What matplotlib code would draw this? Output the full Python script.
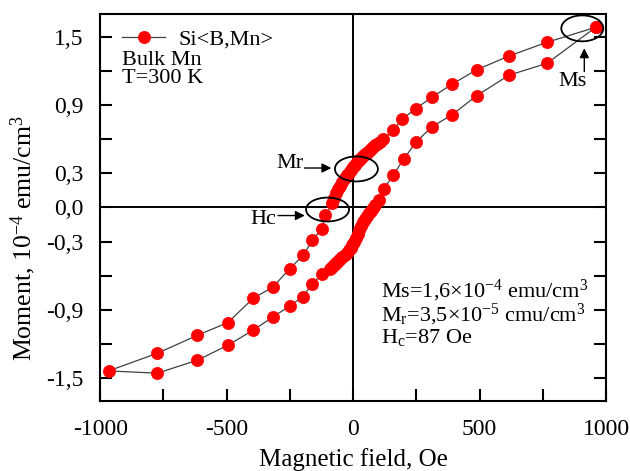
import matplotlib
matplotlib.use("Agg")
import matplotlib.pyplot as plt
from matplotlib.patches import Ellipse

plt.rcParams['font.family'] = ['Liberation Serif', 'DejaVu Serif']
plt.rcParams['mathtext.fontset'] = 'custom'
plt.rcParams['mathtext.rm'] = 'Liberation Serif'
plt.rcParams['mathtext.it'] = 'Liberation Serif:italic'
plt.rcParams['mathtext.bf'] = 'Liberation Serif:bold'

# descending branch, +H -> -H
h_down = [959, 767, 616, 488, 391, 310, 248, 195, 158, 120,
          106, 96, 86, 78, 70, 62, 54, 46, 38, 30, 22, 14, 6, -2,
          -10, -18, -26, -34, -42, -50, -58, -66, -74, -82,
          -110, -124, -161, -198, -251, -317, -396, -495, -616, -774, -967]
m_down = [1.584, 1.453, 1.332, 1.210, 1.084, 0.967, 0.870, 0.777, 0.677, 0.600,
          0.578, 0.562, 0.545, 0.530, 0.515, 0.500, 0.483, 0.467, 0.450, 0.432,
          0.415, 0.396, 0.376, 0.355, 0.332, 0.307, 0.282, 0.256, 0.226, 0.193,
          0.160, 0.125, 0.082, 0.035,
          -0.068, -0.188, -0.290, -0.422, -0.539, -0.700, -0.800, -1.012, -1.124,
          -1.282, -1.437]

# ascending branch, -H -> +H
h_up = [-774, -616, -495, -396, -317, -251, -198, -161, -124, -93,
        -84, -75, -66, -58, -50, -42, -34, -26, -18, -10, -3, 4, 11, 18,
        25, 32, 40, 48, 56, 64, 72, 80, 88,
        102, 122, 158, 200, 248, 310, 391, 488, 616, 767, 959]
m_up = [-1.457, -1.343, -1.211, -1.080, -0.963, -0.867, -0.784, -0.670, -0.589, -0.539,
        -0.522, -0.503, -0.485, -0.468, -0.452, -0.435, -0.416, -0.398, -0.378,
        -0.355, -0.330, -0.300, -0.268, -0.235, -0.200, -0.162, -0.128, -0.098,
        -0.072, -0.050, -0.028, -0.005, 0.025,
        0.063, 0.166, 0.282, 0.426, 0.572, 0.707, 0.815, 0.982, 1.163, 1.268, 1.584]

y_ticks = [-1.5, -1.2, -0.9, -0.6, -0.3, 0.0, 0.3, 0.6, 0.9, 1.2, 1.5]
y_labels = ['-1,5', '', '-0,9', '', '-0,3', '0,0', '0,3', '', '0,9', '', '1,5']
x_ticks = [-1000, -750, -500, -250, 0, 250, 500, 750, 1000]
x_labels = ['-1000', '', '-500', '', '0', '', '500', '', '1000']

fig = plt.figure(figsize=(6.3, 4.71), dpi=100)
ax = fig.add_axes([0.159, 0.149, 0.803, 0.821])

ax.axhline(0, color='black', lw=1.4, zorder=1)
ax.axvline(0, color='black', lw=1.4, zorder=1)

ax.plot(h_down + h_up, m_down + m_up, color='#404040', lw=0.9,
        marker='o', markersize=8.8, markerfacecolor='#ff0000',
        markeredgecolor='#ff0000', markeredgewidth=0.5, zorder=3,
        label='Si<B,Mn>')

ax.set_xlim(-1000, 1000)
ax.set_ylim(-1.7, 1.7)
ax.set_xticks(x_ticks)
ax.set_xticklabels(x_labels)
ax.set_yticks(y_ticks)
ax.set_yticklabels(y_labels)
ax.tick_params(axis='both', direction='in', length=8.5, width=1.5,
               labelsize=17, pad=13)
ax.tick_params(axis='y', right=True, pad=12)
for s in ax.spines.values():
    s.set_linewidth(1.5)

ax.set_xlabel('Magnetic field, Oe', fontsize=18)
ax.set_ylabel(r'Moment, 10$^{-4}$ emu/cm$^{3}$', fontsize=18.5)
ax.yaxis.set_label_coords(-0.122, 0.42)
ax.xaxis.set_label_coords(0.5, -0.121)

ax.legend(loc='upper left', bbox_to_anchor=(0.043, 0.962), frameon=False,
          fontsize=16, handlelength=1.95, handletextpad=0.6,
          borderpad=0, borderaxespad=0)
ax.text(0.0435, 0.880, 'Bulk Mn', transform=ax.transAxes, fontsize=16, va='center')
ax.text(0.0435, 0.833, 'T=300 K', transform=ax.transAxes, fontsize=16, va='center')

ax.text(0.555, 0.2680, r'Ms=1,6$\times$10$^{-4}$ emu/cm$^{3}$',
        transform=ax.transAxes, fontsize=16, va='baseline')
ax.text(0.555, 0.2048, r'M$_{\rm r}$=3,5$\times$10$^{-5}$ cmu/cm$^{3}$',
        transform=ax.transAxes, fontsize=16, va='baseline')
ax.text(0.555, 0.1492, r'H$_{\rm c}$=87 Oe',
        transform=ax.transAxes, fontsize=16, va='baseline')

# ellipses marking Ms, Mr and Hc
for cx, cy, w, h in [(906, 1.575, 166, 0.228), (13, 0.339, 170, 0.22),
                     (-101, -0.018, 170, 0.21)]:
    ax.add_patch(Ellipse((cx, cy), w, h, fill=False, edgecolor='black',
                         lw=1.3, zorder=4))

arrow = dict(arrowstyle='-|>', color='black', lw=1.0, mutation_scale=14,
             shrinkA=0, shrinkB=0)
ax.annotate('', xy=(-86, 0.347), xytext=(-192, 0.347), arrowprops=arrow)
ax.text(-195, 0.39, 'Mr', fontsize=16, ha='right', va='center')
ax.annotate('', xy=(-191, -0.071), xytext=(-297, -0.071), arrowprops=arrow)
ax.text(-302, -0.106, 'Hc', fontsize=16, ha='right', va='center')
ax.annotate('', xy=(914, 1.40), xytext=(914, 1.195), arrowprops=arrow)
ax.text(869, 1.107, 'Ms', fontsize=16, ha='center', va='center')

fig.savefig('out.png', dpi=100)
